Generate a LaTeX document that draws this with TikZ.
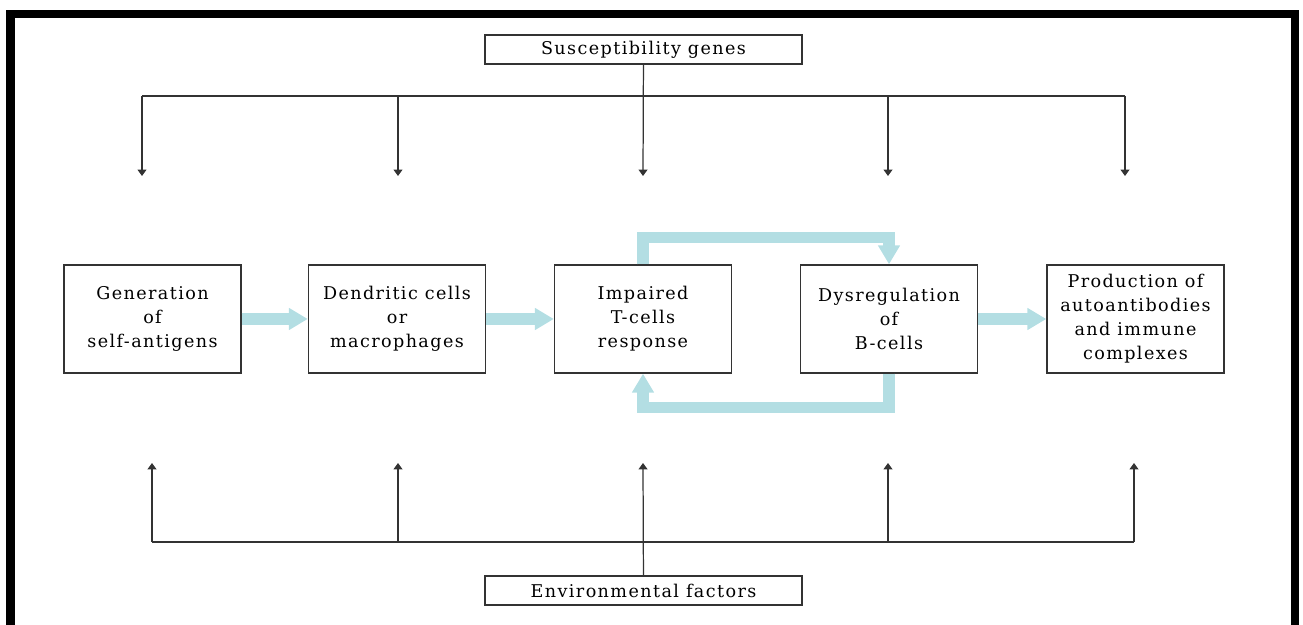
\documentclass[tikz,border=0pt]{standalone}
\usepackage{fontspec}
\setmainfont{DejaVu Serif}[LetterSpace=8]
\usepackage{xcolor}
\usepackage{tikz}
\usetikzlibrary{
    arrows.meta,
    positioning
}
\definecolor{flowblue}{HTML}{B3DEE3}
\definecolor{linegray}{HTML}{333333}

\begin{document}
\begin{tikzpicture}[
        stage/.style={
            draw=linegray,
            line width=0.8pt,
            align=center,
            minimum width=3.54cm,
            minimum height=2.16cm,
            inner sep=1pt,
            font=\fontsize{10}{13.7}\selectfont
        },
        factor/.style={
            draw=linegray,
            line width=0.8pt,
            minimum width=6.34cm,
            minimum height=0.58cm,
            inner sep=0pt,
            font=\fontsize{10}{13.7}\selectfont
        },
        link/.style={
            draw=linegray,
            line width=0.7pt
        },
        linkarrow/.style={
            link,
            -{Triangle[width=5pt,length=3.6pt]}
        },
        flow/.style={
            draw=flowblue,
            line width=0.23cm,
            -{Triangle[width=0.42cm,length=0.38cm]}
        }
    ]
    \useasboundingbox (0,0) rectangle (26.06,12.5);

    % frame (open at the bottom)
    \draw[line width=5.1pt] (0.21,0) -- (0.21,12.22) -- (25.9,12.22) -- (25.9,0);

    \node[factor] (genes) at (12.87,11.51) {Susceptibility genes};
    \node[factor] (environment) at (12.87,0.69) {Environmental factors};

    \node[stage] (antigens) at (3.05,6.12) {Generation\\of\\self-antigens};
    \node[stage] (dendritic) at (7.94,6.12) {Dendritic cells\\or\\macrophages};
    \node[stage] (tcells) at (12.86,6.12) {Impaired\\T-cells\\response};
    \node[stage] (bcells) at (17.78,6.12) {Dysregulation\\of\\B-cells};
    \node[stage] (antibodies) at (22.71,6.12) {Production of\\autoantibodies\\and immune\\complexes};

    % genes above
    \foreach \x [count=\i] in {2.84,7.96,12.86,17.76,22.5} {
        \coordinate (gtop\i) at (\x,10.58);
        \coordinate (gend\i) at (\x,8.98);
    }
    \draw[link] (gtop1) -- (gtop5);
    \foreach \i in {1,2,4,5}
        \draw[linkarrow] (gtop\i) -- (gend\i);
    \draw[linkarrow] (genes) -- (gend3);

    % environment below
    \foreach \x [count=\i] in {3.04,7.96,12.86,17.76,22.68} {
        \coordinate (ebot\i) at (\x,1.66);
        \coordinate (eend\i) at (\x,3.24);
    }
    \draw[link] (ebot1) -- (ebot5);
    \foreach \i in {1,2,4,5}
        \draw[linkarrow] (ebot\i) -- (eend\i);
    \draw[linkarrow] (environment) -- (eend3);

    % flow between the stages
    \draw[flow] (antigens) -- (dendritic);
    \draw[flow] (dendritic) -- (tcells);
    \draw[flow] (bcells) -- (antibodies);
    \draw[flow] (tcells.north) -- ++(0,0.54) -| (bcells.north);
    \draw[flow] (bcells.south) -- ++(0,-0.68) -| (tcells.south);

\end{tikzpicture}
\end{document}
